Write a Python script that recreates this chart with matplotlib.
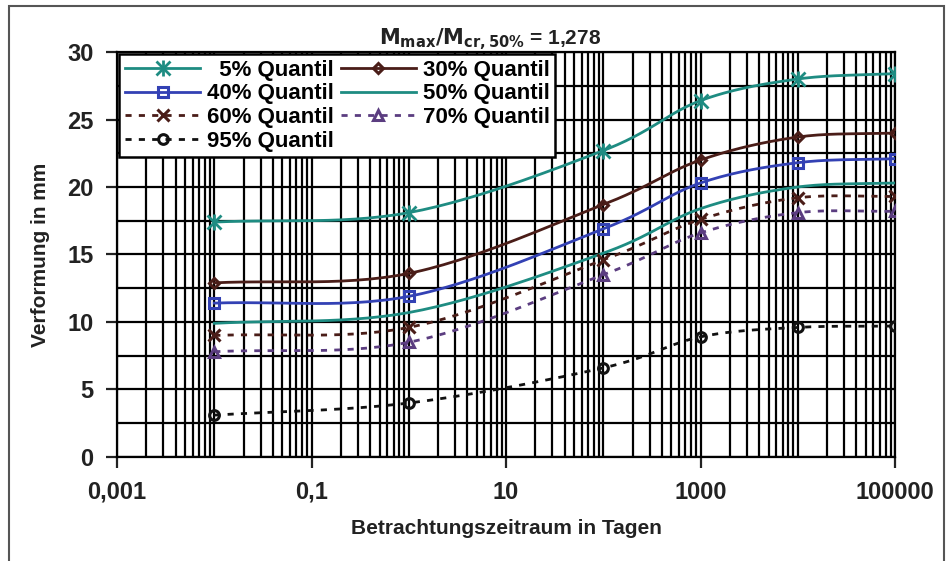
import numpy as np
import matplotlib
matplotlib.use("Agg")
import matplotlib.pyplot as plt
from matplotlib.ticker import FixedLocator, LogLocator, FuncFormatter, MultipleLocator, NullFormatter
from matplotlib.patches import Rectangle
from matplotlib.lines import Line2D
from matplotlib.legend_handler import HandlerTuple

# time span in days and deformation in mm per quantile
tage = [0.01, 1, 100, 1000, 10000, 100000]
q05 = [17.4, 18.1, 22.7, 26.4, 28.0, 28.4]
q30 = [12.9, 13.6, 18.7, 22.0, 23.7, 24.0]
q40 = [11.4, 11.9, 16.9, 20.3, 21.8, 22.1]
q50 = [9.9, 10.7, 15.1, 18.4, 20.0, 20.3]
q60 = [9.0, 9.6, 14.6, 17.6, 19.2, 19.3]
q70 = [7.8, 8.5, 13.5, 16.6, 18.1, 18.2]
q95 = [3.1, 4.0, 6.6, 8.9, 9.6, 9.7]

x_ticks = [0.001, 0.1, 10, 1000, 100000]


def smooth(xs, ys, n=30):
    # Catmull-Rom through the points in log-x space, like a spreadsheet "smoothed line"
    lx = np.log10(xs)
    y = np.asarray(ys, float)
    px = np.concatenate([[2 * lx[0] - lx[1]], lx, [2 * lx[-1] - lx[-2]]])
    py = np.concatenate([[2 * y[0] - y[1]], y, [2 * y[-1] - y[-2]]])
    outx, outy = [], []
    t = np.linspace(0, 1, n)
    for i in range(1, len(px) - 2):
        for arr, out in ((px, outx), (py, outy)):
            p0, p1, p2, p3 = arr[i - 1], arr[i], arr[i + 1], arr[i + 2]
            out.extend(0.5 * ((2 * p1) + (-p0 + p2) * t
                              + (2 * p0 - 5 * p1 + 4 * p2 - p3) * t ** 2
                              + (-p0 + 3 * p1 - 3 * p2 + p3) * t ** 3))
    return 10 ** np.array(outx), np.array(outy)


plt.rcParams["font.family"] = ["Liberation Sans", "DejaVu Sans"]
plt.rcParams["font.weight"] = "bold"

fig = plt.figure(figsize=(9.53, 5.61), dpi=100)
ax = fig.add_axes([0.1228, 0.1854, 0.8164, 0.7219])

dash = (0, (2.2, 2.6))
teal = "#1e8c82"
brown = "#4a1d18"
blue = "#3341b4"
purple = "#5b3d80"

# label, values, colour, linestyle, marker, marker size
series = [
    ("  5% Quantil", q05, teal, "-", "asterisk", 10),
    ("40% Quantil", q40, blue, "-", "s", 6.5),
    ("60% Quantil", q60, brown, dash, "x", 9),
    ("95% Quantil", q95, "#111111", dash, "o", 7),
    ("30% Quantil", q30, brown, "-", "D", 5.5),
    ("50% Quantil", q50, teal, "-", None, 0),
    ("70% Quantil", q70, purple, dash, "^", 7.5),
]

handles = []
for label, vals, col, ls, mk, ms in series:
    sx, sy = smooth(tage, vals)
    ax.plot(sx, sy, color=col, lw=2, ls=ls, zorder=3)
    if mk == "asterisk":
        # x plus a vertical bar gives the six-armed asterisk
        ax.plot(tage, vals, ls="none", marker="x", ms=ms, mec=col, mew=2, zorder=4)
        ax.plot(tage, vals, ls="none", marker="|", ms=ms + 1, mec=col, mew=2, zorder=4)
        h = (Line2D([], [], color=col, lw=2, ls=ls, marker="x", ms=ms, mec=col, mew=2),
             Line2D([], [], ls="none", marker="|", ms=ms + 1, mec=col, mew=2))
    else:
        ax.plot(tage, vals, ls="none", marker=mk, ms=ms, mfc="none", mec=col, mew=2.2, zorder=4)
        h = Line2D([], [], color=col, lw=2, ls=ls, marker=mk, ms=ms, mfc="none", mec=col, mew=2.2)
    handles.append((h, label))

ax.set_xscale("log")
ax.set_xlim(0.001, 100000)
ax.set_ylim(0, 30)

ax.xaxis.set_major_locator(FixedLocator(x_ticks))
ax.xaxis.set_minor_locator(LogLocator(base=10, subs=np.arange(1, 10), numticks=20))
ax.xaxis.set_minor_formatter(NullFormatter())
ax.xaxis.set_major_formatter(FuncFormatter(lambda v, p: ("%g" % v).replace(".", ",") if v < 1 else "%d" % v))
ax.yaxis.set_major_locator(MultipleLocator(5))
ax.yaxis.set_minor_locator(MultipleLocator(2.5))

ax.grid(True, which="both", color="black", lw=1.6)
ax.set_axisbelow(True)
ax.tick_params(which="major", length=8, width=1.6, labelsize=17, colors="#222222", pad=9)
ax.tick_params(which="minor", length=0)
for s in ax.spines.values():
    s.set_linewidth(1.6)

ax.set_xlabel("Betrachtungszeitraum in Tagen", fontsize=15, fontweight="bold", color="#222222", labelpad=11)
ax.set_ylabel("Verformung in mm", fontsize=15, fontweight="bold", color="#222222", labelpad=12)
ax.set_title(r"$\mathbf{M_{max}/M_{cr,50\%}}$ = 1,278", fontsize=15, fontweight="bold",
             color="#222222", x=0.48, pad=5)

leg = ax.legend([h for h, _ in handles], [l for _, l in handles], ncol=2, loc="upper left",
                borderaxespad=0.1, fontsize=16, frameon=True, fancybox=False,
                framealpha=1, edgecolor="black", handlelength=3.4, handletextpad=0.3,
                columnspacing=0.3, labelspacing=0.12, borderpad=0.25,
                handler_map={tuple: HandlerTuple(ndivide=1)})
leg.get_frame().set_linewidth(1.8)
leg.set_zorder(5)

fig.patches.append(Rectangle((0.009, -0.05), 0.982, 1.039, transform=fig.transFigure,
                             fill=False, edgecolor="#555555", lw=1.5))

fig.savefig("out.png", dpi=100)
